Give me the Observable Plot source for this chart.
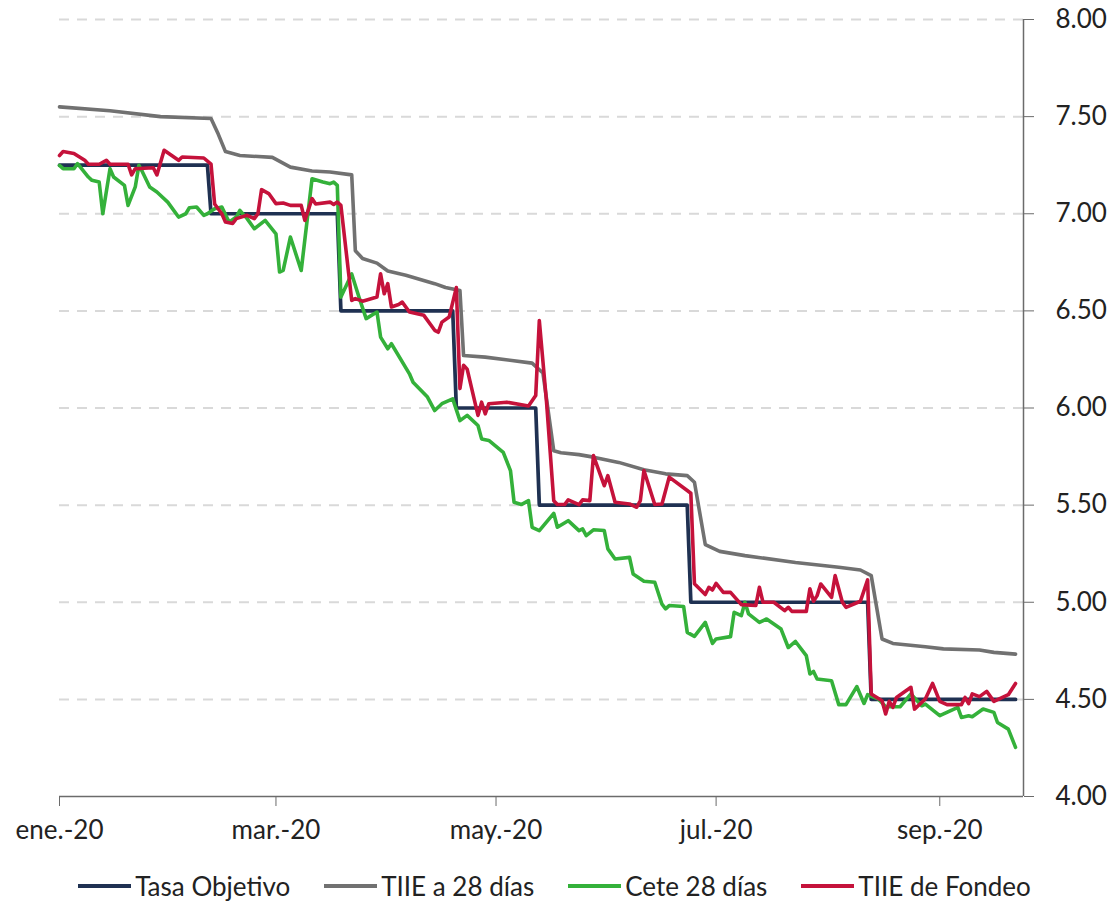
<!DOCTYPE html>
<html>
<head>
<meta charset="utf-8">
<script src="https://cdn.jsdelivr.net/npm/d3@7"></script>
<script src="https://cdn.jsdelivr.net/npm/@observablehq/plot@0.6"></script>
<style>
  html, body { margin: 0; padding: 0; background: #ffffff; }
  #chart { width: 1109px; }
  #legend { display: flex; justify-content: center; align-items: center; height: 40px;
            font-family: Lato, "Open Sans", sans-serif; font-size: 26px; color: #222; }
  .item { display: flex; align-items: center; margin: 0 17px; }
  .sw { display: inline-block; width: 53px; height: 4px; margin-right: 4px; }
</style>
</head>
<body>
<div id="chart"></div>
<div id="legend"></div>
<script>
// ---- data ----
const seriesNames = ["Tasa Objetivo", "TIIE a 28 días", "Cete 28 días", "TIIE de Fondeo"];
const seriesColors = ["#1f3152", "#717171", "#34b13a", "#c5123b"];

const xTickDates = ["2020-01-01", "2020-03-01", "2020-05-01", "2020-07-01", "2020-09-01"];
const xTickLabels = ["ene.-20", "mar.-20", "may.-20", "jul.-20", "sep.-20"];
const yTicks = [4, 4.5, 5, 5.5, 6, 6.5, 7, 7.5, 8];

const tasaDates = ["2020-01-01","2020-02-11","2020-02-12","2020-03-18","2020-03-19","2020-04-19","2020-04-20","2020-05-12","2020-05-13","2020-06-23","2020-06-24","2020-08-12","2020-08-13","2020-09-22"];
const tasaValues = [7.25,7.25,7.00,7.00,6.50,6.50,6.00,6.00,5.50,5.50,5.00,5.00,4.50,4.50];

const tiie28Dates = ["2020-01-01","2020-01-15","2020-01-29","2020-02-12","2020-02-14","2020-02-16","2020-02-20","2020-02-29","2020-03-05","2020-03-11","2020-03-16","2020-03-22","2020-03-23","2020-03-25","2020-03-29","2020-04-01","2020-04-06","2020-04-14","2020-04-17","2020-04-21","2020-04-22","2020-04-28","2020-05-11","2020-05-14","2020-05-17","2020-05-19","2020-05-24","2020-05-28","2020-06-04","2020-06-11","2020-06-17","2020-06-23","2020-06-25","2020-06-28","2020-07-02","2020-07-09","2020-07-23","2020-08-04","2020-08-10","2020-08-13","2020-08-16","2020-08-19","2020-08-28","2020-09-02","2020-09-12","2020-09-16","2020-09-22"];
const tiie28Values = [7.55,7.53,7.50,7.49,7.41,7.32,7.30,7.29,7.24,7.22,7.215,7.20,6.81,6.77,6.746,6.705,6.683,6.64,6.62,6.605,6.27,6.262,6.231,6.18,5.78,5.77,5.76,5.747,5.72,5.682,5.661,5.652,5.618,5.297,5.262,5.24,5.205,5.18,5.166,5.137,4.811,4.788,4.771,4.76,4.754,4.742,4.733];

const ceteDates = ["2020-01-01","2020-01-02","2020-01-05","2020-01-06","2020-01-09","2020-01-10","2020-01-12","2020-01-13","2020-01-15","2020-01-16","2020-01-19","2020-01-20","2020-01-22","2020-01-23","2020-01-24","2020-01-26","2020-01-28","2020-01-31","2020-02-03","2020-02-05","2020-02-06","2020-02-08","2020-02-10","2020-02-11","2020-02-13","2020-02-15","2020-02-17","2020-02-19","2020-02-20","2020-02-22","2020-02-24","2020-02-27","2020-03-01","2020-03-02","2020-03-03","2020-03-05","2020-03-08","2020-03-11","2020-03-14","2020-03-16","2020-03-17","2020-03-18","2020-03-19","2020-03-22","2020-03-24","2020-03-26","2020-03-29","2020-03-30","2020-04-01","2020-04-02","2020-04-07","2020-04-08","2020-04-12","2020-04-14","2020-04-16","2020-04-19","2020-04-21","2020-04-23","2020-04-26","2020-04-27","2020-04-29","2020-05-03","2020-05-05","2020-05-06","2020-05-08","2020-05-10","2020-05-11","2020-05-13","2020-05-17","2020-05-18","2020-05-21","2020-05-24","2020-05-25","2020-05-26","2020-05-28","2020-05-31","2020-06-01","2020-06-03","2020-06-07","2020-06-08","2020-06-11","2020-06-14","2020-06-16","2020-06-17","2020-06-18","2020-06-22","2020-06-23","2020-06-25","2020-06-28","2020-06-30","2020-07-01","2020-07-05","2020-07-06","2020-07-08","2020-07-09","2020-07-10","2020-07-13","2020-07-15","2020-07-19","2020-07-21","2020-07-23","2020-07-26","2020-07-27","2020-07-28","2020-07-29","2020-08-02","2020-08-04","2020-08-06","2020-08-09","2020-08-11","2020-08-12","2020-08-15","2020-08-17","2020-08-21","2020-08-24","2020-08-27","2020-08-28","2020-09-01","2020-09-06","2020-09-07","2020-09-09","2020-09-10","2020-09-13","2020-09-16","2020-09-17","2020-09-20","2020-09-22"];
const ceteValues = [7.249,7.232,7.232,7.258,7.189,7.172,7.163,7.00,7.232,7.189,7.146,7.043,7.138,7.249,7.215,7.138,7.112,7.06,6.983,7.00,7.031,7.035,6.992,7.00,7.026,7.035,6.957,6.983,7.017,6.975,6.923,6.966,6.897,6.70,6.708,6.88,6.708,7.18,7.163,7.155,7.163,7.146,6.571,6.69,6.571,6.46,6.494,6.365,6.305,6.331,6.176,6.133,6.056,5.987,6.022,6.047,5.935,5.962,5.91,5.841,5.833,5.772,5.678,5.515,5.503,5.523,5.386,5.369,5.458,5.386,5.42,5.369,5.378,5.343,5.373,5.369,5.275,5.223,5.231,5.146,5.108,5.103,4.99,4.966,4.983,4.978,4.845,4.824,4.896,4.788,4.811,4.823,4.948,4.931,5.00,4.94,4.896,4.914,4.862,4.767,4.798,4.725,4.631,4.644,4.605,4.596,4.473,4.473,4.566,4.479,4.524,4.502,4.462,4.462,4.528,4.467,4.476,4.416,4.459,4.407,4.416,4.411,4.45,4.433,4.381,4.347,4.253];

const fondeoDates = ["2020-01-01","2020-01-02","2020-01-05","2020-01-08","2020-01-09","2020-01-12","2020-01-14","2020-01-15","2020-01-20","2020-01-21","2020-01-22","2020-01-27","2020-01-28","2020-01-30","2020-02-03","2020-02-04","2020-02-10","2020-02-12","2020-02-13","2020-02-15","2020-02-16","2020-02-18","2020-02-19","2020-02-22","2020-02-24","2020-02-25","2020-02-26","2020-02-28","2020-03-01","2020-03-03","2020-03-05","2020-03-08","2020-03-09","2020-03-11","2020-03-12","2020-03-16","2020-03-17","2020-03-18","2020-03-19","2020-03-22","2020-03-23","2020-03-25","2020-03-29","2020-03-30","2020-03-31","2020-04-01","2020-04-02","2020-04-04","2020-04-05","2020-04-07","2020-04-11","2020-04-14","2020-04-15","2020-04-16","2020-04-18","2020-04-20","2020-04-21","2020-04-22","2020-04-23","2020-04-26","2020-04-27","2020-04-28","2020-04-29","2020-05-04","2020-05-10","2020-05-12","2020-05-13","2020-05-15","2020-05-17","2020-05-18","2020-05-20","2020-05-21","2020-05-24","2020-05-25","2020-05-27","2020-05-28","2020-05-31","2020-06-01","2020-06-03","2020-06-07","2020-06-09","2020-06-10","2020-06-11","2020-06-14","2020-06-16","2020-06-18","2020-06-23","2020-06-24","2020-06-25","2020-06-28","2020-06-29","2020-06-30","2020-07-01","2020-07-03","2020-07-05","2020-07-08","2020-07-12","2020-07-13","2020-07-14","2020-07-17","2020-07-20","2020-07-21","2020-07-22","2020-07-26","2020-07-27","2020-07-28","2020-07-29","2020-07-30","2020-08-02","2020-08-03","2020-08-05","2020-08-06","2020-08-10","2020-08-12","2020-08-13","2020-08-16","2020-08-17","2020-08-18","2020-08-19","2020-08-20","2020-08-24","2020-08-25","2020-08-28","2020-08-30","2020-09-01","2020-09-03","2020-09-07","2020-09-08","2020-09-09","2020-09-10","2020-09-12","2020-09-14","2020-09-16","2020-09-20","2020-09-22"];
const fondeoValues = [7.30,7.32,7.31,7.275,7.255,7.255,7.275,7.255,7.255,7.20,7.232,7.237,7.20,7.327,7.275,7.292,7.287,7.255,7.05,7.00,6.957,6.95,6.975,6.992,6.975,7.00,7.124,7.104,7.052,7.055,7.043,7.043,6.966,7.078,7.05,7.06,7.048,7.06,7.043,6.554,6.563,6.55,6.571,6.691,6.588,6.64,6.52,6.533,6.545,6.494,6.477,6.40,6.39,6.442,6.468,6.62,6.10,6.22,6.20,5.962,6.03,5.97,6.022,6.03,6.01,6.064,6.45,6.03,5.523,5.503,5.503,5.527,5.503,5.527,5.523,5.755,5.60,5.652,5.515,5.506,5.489,5.523,5.678,5.503,5.506,5.644,5.575,5.561,5.095,5.04,5.077,5.063,5.097,5.051,5.051,4.988,4.983,5.077,5.00,5.00,4.957,4.974,4.953,4.953,5.069,5.005,5.034,5.094,5.025,5.137,5.00,4.974,5.005,5.115,4.528,4.493,4.425,4.49,4.459,4.51,4.562,4.45,4.502,4.582,4.49,4.473,4.473,4.51,4.478,4.528,4.514,4.541,4.49,4.524,4.582];

const xDomainEnd = "2020-09-24T05:00:00Z";

// ---- build rows ----
const parse = s => new Date(s);
function rows(dates, values, name) {
  return dates.map((d, i) => ({date: parse(d), value: values[i], series: name}));
}
const tasa = rows(tasaDates, tasaValues, seriesNames[0]);
const tiie28 = rows(tiie28Dates, tiie28Values, seriesNames[1]);
const cete = rows(ceteDates, ceteValues, seriesNames[2]);
const fondeo = rows(fondeoDates, fondeoValues, seriesNames[3]);

const xStart = parse(xTickDates[0]);
const xEnd = parse(xDomainEnd);
const tickDates = xTickDates.map(parse);
const labelFor = d => xTickLabels[tickDates.findIndex(t => +t === +d)];

const lineOpts = (c, w) => ({x: "date", y: "value", stroke: c, strokeWidth: w, strokeLinejoin: "round", strokeLinecap: "round"});

const chart = Plot.plot({
  width: 1109,
  height: 866,
  marginLeft: 59,
  marginRight: 86,
  marginTop: 19,
  marginBottom: 70,
  style: {fontFamily: "Lato, 'Open Sans', sans-serif", fontSize: "26px", background: "#ffffff", color: "#222"},
  x: {type: "utc", domain: [xStart, xEnd]},
  y: {domain: [4, 8]},
  marks: [
    Plot.ruleY(yTicks.filter(v => v > 4), {stroke: "#d9d9d9", strokeWidth: 2, strokeDasharray: "10,8"}),
    Plot.line(tasa, lineOpts(seriesColors[0], 3.7)),
    Plot.line(tiie28, lineOpts(seriesColors[1], 3.6)),
    Plot.line(cete, lineOpts(seriesColors[2], 3.6)),
    Plot.line(fondeo, lineOpts(seriesColors[3], 3.6)),
    Plot.ruleY([4], {stroke: "#6b6b6b", strokeWidth: 1.5}),
    Plot.ruleX([xEnd], {stroke: "#6b6b6b", strokeWidth: 1.5}),
    Plot.axisX({ticks: tickDates, tickFormat: labelFor, tickSize: 10, tickPadding: 14, stroke: "#6b6b6b", fill: "#222", label: null}),
    Plot.axisY({anchor: "right", ticks: yTicks, tickFormat: d => d.toFixed(2), tickSize: 10, tickPadding: 22, stroke: "#6b6b6b", fill: "#222", label: null})
  ]
});
document.getElementById("chart").appendChild(chart);

// ---- legend ----
const legend = document.getElementById("legend");
seriesNames.forEach((n, i) => {
  const item = document.createElement("div");
  item.className = "item";
  const sw = document.createElement("span");
  sw.className = "sw";
  sw.style.background = seriesColors[i];
  const t = document.createElement("span");
  t.textContent = n;
  item.appendChild(sw);
  item.appendChild(t);
  legend.appendChild(item);
});
</script>
</body>
</html>
